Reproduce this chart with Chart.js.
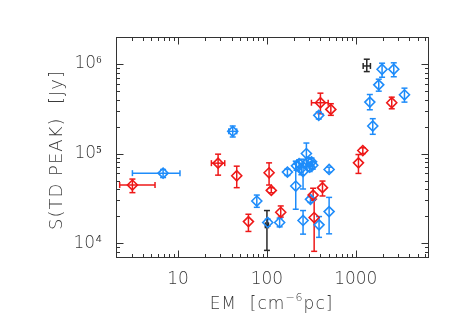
<!DOCTYPE html>
<html><head><meta charset="utf-8">
<script src="https://cdn.jsdelivr.net/npm/chart.js@4"></script>
<style>html,body{margin:0;padding:0;background:#fff}canvas{display:block}</style>
</head><body>
<canvas id="c" width="463" height="331"></canvas>
<script>
// ---- data (EM in cm^-6 pc, S in Jy) ----
const redX   = [3.06, 28.2, 45.7, 61.9, 105.7, 112, 143, 331, 340, 400, 524, 422, 1072, 1200, 2540];
const redY   = [44500, 78100, 56500, 17400, 61000, 38800, 22100, 34400, 19300, 369000, 311000, 41600, 78700, 108000, 369000];
const redYLo = [36600, 57400, 41600, 13500, 44500, 36500, 19500, 30000, 8100, 278000, 267000, 33600, 60000, 100000, 316000];
const redYHi = [51900, 98400, 72300, 21000, 78700, 41500, 26000, 41000, 31000, 472000, 360000, 49300, 97500, 116000, 426000];
const redXLo = [2.2, 23.7, null, null, null, null, null, null, null, 317, null, null, null, null, null];
const redXHi = [5.5, 33.5, null, null, null, null, null, null, null, 489, null, null, null, null, null];

const blueX   = [6.78, 41.2, 76.9, 102, 139, 170, 211, 215, 230, 244, 255, 255, 278, 291, 303, 318, 328, 309, 383, 386, 501, 501, 1439, 1553, 1814, 1977, 2677, 3532];
const blueY   = [60400, 177000, 29500, 17000, 17000, 62100, 43400, 72900, 77400, 68100, 17900, 63000, 100000, 80800, 70500, 80800, 74100, 30800, 267000, 16000, 66400, 22500, 375000, 203000, 585000, 873000, 873000, 453000];
const blueYLo = [54000, 153000, 25100, 15500, 15200, 57000, 23900, 65000, 70000, 58000, 12600, 40200, 69000, 72000, 63000, 73000, 67000, 28500, 243000, 11600, 62000, 12700, 308000, 164000, 497000, 711000, 720000, 375000];
const blueYHi = [66400, 203000, 34400, 18500, 19000, 67000, 82200, 81000, 85000, 78000, 23100, 86500, 131000, 90000, 78000, 89000, 81000, 33000, 291000, 19800, 70500, 32400, 456000, 245000, 676000, 1020000, 1030000, 537000];
const blueXLo = [3.06, 37.2, null, null, null, null, null, null, null, null, null, null, null, null, null, null, null, null, null, null, null, null, null, null, null, null, null, null];
const blueXHi = [10.5, 45.7, null, null, null, null, null, null, null, null, null, null, null, null, null, null, null, null, null, null, null, null, null, null, null, null, null, null];

const blackX   = [1330, 100];
const blackY   = [950000, 15800];
const blackYLo = [822000, 8300];
const blackYHi = [1130000, 23100];
const blackXLo = [1211, 96];
const blackXHi = [1462, 104];

const xTickValues = [10, 100, 1000];
const yTickValues = [1e4, 1e5, 1e6];
const yTickLabels = ['10\u2074', '10\u2075', '10\u2076'];

const RED = 'rgb(238,24,24)';
const BLUE = 'rgb(30,140,250)';
const BLACK = 'rgb(40,40,40)';
const TXT = '#3a3a3a';

function pts(xs, ys){ return xs.map((x,i)=>({x:x, y:ys[i]})); }

const errPlugin = {
  id: 'errbars',
  beforeDatasetsDraw(chart){
    const ctx = chart.ctx, xs = chart.scales.x, ys = chart.scales.y;
    chart.data.datasets.forEach(ds=>{
      const e = ds.err; if(!e) return;
      ctx.save();
      ctx.strokeStyle = ds.errColor; ctx.lineWidth = 1.5;
      const seg=(a,b,c,d)=>{ctx.beginPath();ctx.moveTo(a,b);ctx.lineTo(c,d);ctx.stroke();};
      ds.data.forEach((p,j)=>{
        const px = xs.getPixelForValue(p.x), py = ys.getPixelForValue(p.y);
        if(e.yLo[j]!=null){
          const a = ys.getPixelForValue(e.yLo[j]), b = ys.getPixelForValue(e.yHi[j]);
          seg(px,a,px,b); seg(px-3,a,px+3,a); seg(px-3,b,px+3,b);
        }
        if(e.xLo[j]!=null){
          const a = xs.getPixelForValue(e.xLo[j]), b = xs.getPixelForValue(e.xHi[j]);
          seg(a,py,b,py); seg(a,py-3,a,py+3); seg(b,py-3,b,py+3);
        }
      });
      ctx.restore();
    });
  },
  afterDraw(chart){
    const ctx = chart.ctx, xs = chart.scales.x, ys = chart.scales.y, A = chart.chartArea;
    ctx.save();
    ctx.strokeStyle = '#333'; ctx.lineWidth = 1;
    const L = Math.round(A.left)+0.5, R = Math.round(A.right)+0.5, T = Math.round(A.top)+0.5, B = Math.round(A.bottom)+0.5;
    ctx.strokeRect(L, T, R-L, B-T);
    const seg=(a,b,c,d)=>{ctx.beginPath();ctx.moveTo(a,b);ctx.lineTo(c,d);ctx.stroke();};
    for(let d=0; d<=4; d++){
      for(let k=1;k<=9;k++){
        const v = k*Math.pow(10,d);
        if(v<xs.min||v>xs.max) continue;
        const px = Math.round(xs.getPixelForValue(v))+0.5;
        const len = k===1?7:3.5;
        seg(px,B,px,B-len); seg(px,T,px,T+len);
      }
    }
    for(let d=3; d<=6; d++){
      for(let k=1;k<=9;k++){
        const v = k*Math.pow(10,d);
        if(v<ys.min||v>ys.max) continue;
        const py = Math.round(ys.getPixelForValue(v))+0.5;
        const len = k===1?7:3.5;
        seg(L,py,L+len,py); seg(R,py,R-len,py);
      }
    }
    // axis titles
    ctx.fillStyle = TXT;
    ctx.textBaseline = 'alphabetic';
    try{ ctx.letterSpacing = '1px'; }catch(e){}
    const big = '300 17px "DejaVu Sans"', small = '300 11px "DejaVu Sans"';
    const p1 = 'EM  [cm', p2 = '\u22126', p3 = 'pc]';
    ctx.font = big; const w1 = ctx.measureText(p1).width, w3 = ctx.measureText(p3).width;
    ctx.font = small; const w2 = ctx.measureText(p2).width;
    let x0 = 271.5 - (w1+w2+w3)/2, base = 309;
    ctx.textAlign = 'left';
    ctx.font = big; ctx.fillText(p1, x0, base);
    ctx.font = small; ctx.fillText(p2, x0+w1, base-8);
    ctx.font = big; ctx.fillText(p3, x0+w1+w2, base);
    ctx.translate(57, 150); ctx.rotate(-Math.PI/2);
    ctx.textAlign = 'center'; ctx.textBaseline = 'middle';
    ctx.font = '300 18px "DejaVu Sans"';
    ctx.fillText('S(TD PEAK)  [Jy]', 0, 0);
    ctx.restore();
  }
};

function mk(label, xs, ys, lo, hi, xlo, xhi, color, r){
  return {label, data: pts(xs, ys), err: {yLo: lo, yHi: hi, xLo: xlo, xHi: xhi},
    errColor: color, borderColor: color, backgroundColor: 'rgba(0,0,0,0)',
    pointStyle: 'rectRot', pointRadius: r, pointBorderWidth: 1.6, pointHoverRadius: r, showLine: false};
}

new Chart(document.getElementById('c'), {
  type: 'scatter',
  data: { datasets: [
    mk('red', redX, redY, redYLo, redYHi, redXLo, redXHi, RED, 5),
    mk('blue', blueX, blueY, blueYLo, blueYHi, blueXLo, blueXHi, BLUE, 5),
    mk('black', blackX, blackY, blackYLo, blackYHi, blackXLo, blackXHi, BLACK, 0)
  ]},
  options: {
    responsive: false, animation: false, devicePixelRatio: 1,
    layout: { padding: { left: 0, top: 37, right: 35, bottom: 0 } },
    plugins: { legend: {display:false}, tooltip: {enabled:false} },
    scales: {
      x: { type: 'logarithmic', min: 2, max: 6500, position: 'bottom',
        grid: { display: false, drawTicks: false }, border: { display: false },
        afterBuildTicks: s => { s.ticks = xTickValues.map(v=>({value:v})); },
        afterFit: s => { s.height = 74; },
        ticks: { autoSkip: false, maxRotation: 0, padding: 12, color: TXT,
          font: { family: 'DejaVu Sans', size: 17, weight: 300 }, callback: v => String(v) } },
      y: { type: 'logarithmic', min: 7000, max: 2e6, position: 'left',
        grid: { display: false, drawTicks: false }, border: { display: false },
        afterBuildTicks: s => { s.ticks = yTickValues.map(v=>({value:v})); },
        afterFit: s => { s.width = 116; },
        ticks: { autoSkip: false, padding: 14, color: TXT,
          font: { family: 'DejaVu Sans', size: 17, weight: 300 },
          callback: (v) => yTickLabels[yTickValues.indexOf(v)] ?? '' } }
    }
  },
  plugins: [errPlugin]
});
</script>
</body></html>
